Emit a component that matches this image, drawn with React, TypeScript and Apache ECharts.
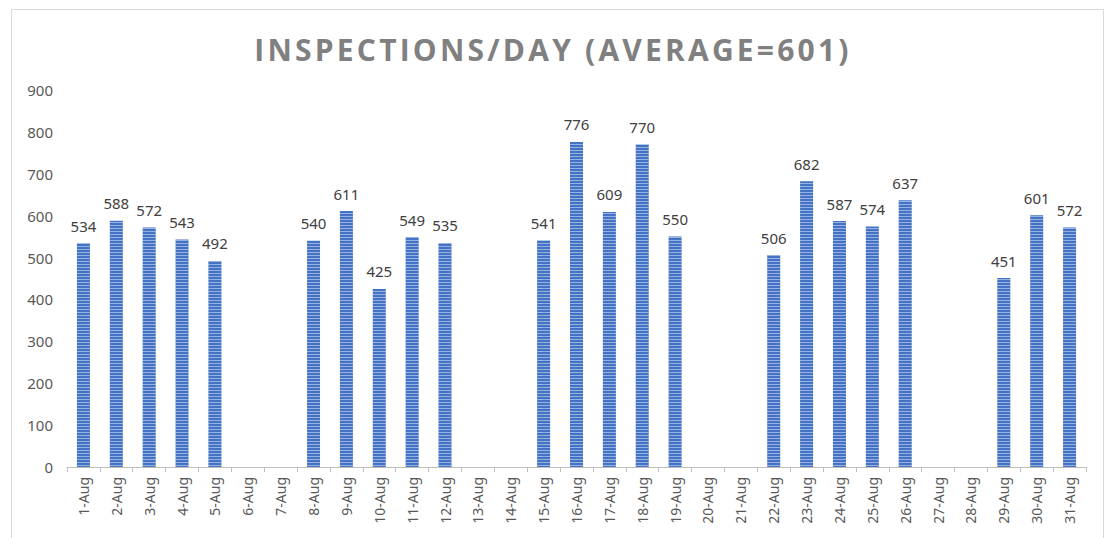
import React, { useEffect, useRef } from "react";
import * as echarts from "echarts";

const categories = Array.from({ length: 31 }, (_, i) => `${i + 1}-Aug`);
const inspections: (number | null)[] = [
  534, 588, 572, 543, 492, null, null, 540, 611, 425, 549, 535, null, null,
  541, 776, 609, 770, 550, null, null, 506, 682, 587, 574, 637, null, null,
  451, 601, 572,
];
const yTicks = { min: 0, max: 900, interval: 100 };
const titleText = "INSPECTIONS/DAY (AVERAGE=601)";

export default function App() {
  const ref = useRef<HTMLDivElement>(null);
  useEffect(() => {
    const chart = echarts.init(ref.current!, null, { renderer: "svg" });
    chart.setOption({
      animation: false,
      backgroundColor: "#ffffff",
      title: {
        text: titleText,
        left: "center",
        top: 29,
        textStyle: {
          fontFamily: "Open Sans",
          fontWeight: "bold",
          fontSize: 30,
          color: "#808080",
        },
      },
      graphic: [
        {
          type: "rect",
          shape: { x: 11.5, y: 9.5, width: 1092, height: 540 },
          style: { fill: "none", stroke: "#d9d9d9", lineWidth: 1 },
          silent: true,
        },
      ],
      grid: { left: 67, right: 20, top: 90, bottom: 71 },
      xAxis: {
        type: "category",
        data: categories,
        axisLine: { lineStyle: { color: "#bfbfbf" } },
        axisTick: { show: true, length: 5, lineStyle: { color: "#bfbfbf" } },
        axisLabel: {
          rotate: 90,
          color: "#595959",
          fontFamily: "Noto Sans",
          fontSize: 14,
          interval: 0,
          margin: 10,
        },
      },
      yAxis: {
        type: "value",
        min: yTicks.min,
        max: yTicks.max,
        interval: yTicks.interval,
        splitLine: { show: false },
        axisLine: { show: false },
        axisTick: { show: false },
        axisLabel: {
          color: "#595959",
          fontFamily: "Noto Sans",
          fontSize: 15,
          margin: 14,
        },
      },
      series: [
        {
          type: "bar",
          data: inspections,
          barWidth: 13,
          itemStyle: {
            color: "#4472c4",
            decal: {
              symbol: "rect",
              symbolSize: 1,
              dashArrayX: [1, 0],
              dashArrayY: [1, 2],
              rotation: 0,
              color: "rgba(255,255,255,0.45)",
            },
          },
          label: {
            show: true,
            position: "top",
            distance: 10,
            color: "#404040",
            fontFamily: "Noto Sans",
            fontSize: 15,
          },
        },
      ],
    });
    return () => chart.dispose();
  }, []);
  return (
    <>
      <style>{`#chart-box text[style*="bold"], #chart-box text[font-weight="bold"] { letter-spacing: 3.2px; }`}</style>
      <div
        id="chart-box"
        ref={ref}
        style={{ position: "fixed", left: 0, top: 0, width: 1106, height: 538 }}
      />
    </>
  );
}
